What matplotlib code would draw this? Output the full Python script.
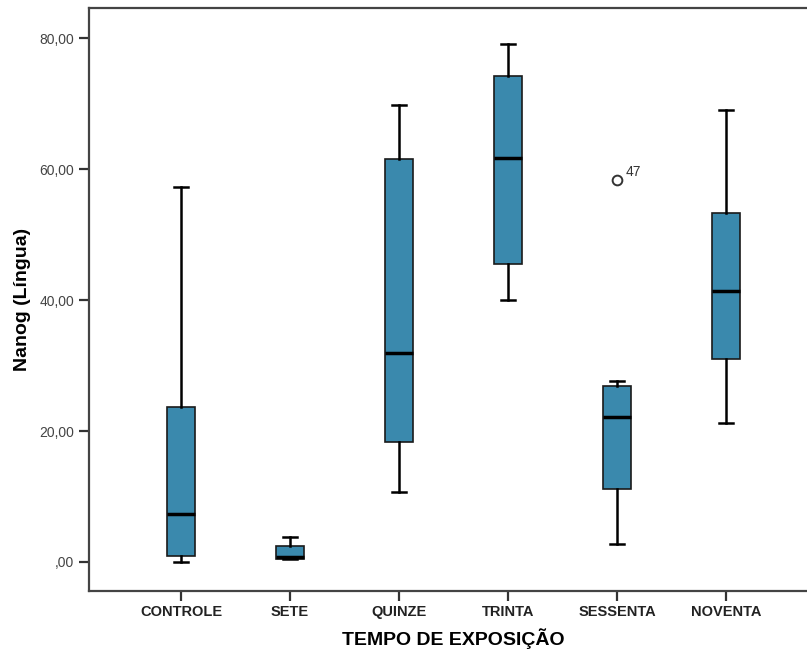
import matplotlib
matplotlib.use('Agg')
import matplotlib.pyplot as plt

plt.rcParams['font.family'] = ['Liberation Sans', 'DejaVu Sans']

# five-number summaries per exposure time
groups = ['CONTROLE', 'SETE', 'QUINZE', 'TRINTA', 'SESSENTA', 'NOVENTA']
whisker_low = [0.0, 0.4, 10.7, 40.0, 2.7, 21.2]
q1 = [0.9, 0.45, 18.3, 45.5, 11.1, 31.0]
median = [7.3, 0.75, 31.9, 61.7, 22.1, 41.4]
q3 = [23.7, 2.4, 61.5, 74.2, 26.9, 53.3]
whisker_high = [57.3, 3.8, 69.8, 79.1, 27.6, 69.0]
outliers = [[], [], [], [], [58.3], []]
outlier_ids = [[], [], [], [], ['47'], []]

yticks = [0, 20, 40, 60, 80]
ytick_labels = [',00', '20,00', '40,00', '60,00', '80,00']

stats = []
for i, g in enumerate(groups):
    stats.append(dict(label=g, whislo=whisker_low[i], q1=q1[i], med=median[i],
                      q3=q3[i], whishi=whisker_high[i], fliers=outliers[i]))

fig = plt.figure(figsize=(8.07, 6.53), dpi=100)
ax = fig.add_axes([89 / 807, 62 / 653, 729 / 807, 583 / 653])

positions = list(range(1, len(groups) + 1))
ax.bxp(stats, positions=positions, widths=0.26, patch_artist=True,
       showfliers=True,
       boxprops=dict(facecolor='#3a89ad', edgecolor='#1a1a1a', linewidth=1.2),
       medianprops=dict(color='black', linewidth=2.5),
       whiskerprops=dict(color='black', linewidth=1.8),
       capprops=dict(color='black', linewidth=1.8),
       capwidths=0.13,
       flierprops=dict(marker='o', markerfacecolor='white', markeredgecolor='#333333',
                       markersize=7, markeredgewidth=1.4))

for i, ids in enumerate(outlier_ids):
    for val, name in zip(outliers[i], ids):
        ax.annotate(name, (positions[i], val), xytext=(6, 3), textcoords='offset points',
                    fontsize=10, color='#333333')

ax.set_xlim(0.156, 6.844)
ax.set_ylim(-4.43, 84.6)
ax.set_yticks(yticks)
ax.set_yticklabels(ytick_labels, fontsize=10, color='#444444')
ax.set_xticks(positions)
ax.set_xticklabels(groups, fontsize=10.5, fontweight='bold', color='#222222')
ax.tick_params(axis='both', direction='out', length=7, width=1.6, color='#333333')
ax.tick_params(axis='x', pad=3)
for s in ax.spines.values():
    s.set_linewidth(1.6)
    s.set_color('#444444')

ax.set_xlabel('TEMPO DE EXPOSIÇÃO', fontsize=14, fontweight='bold', labelpad=7)
ax.set_ylabel('Nanog (Língua)', fontsize=14, fontweight='bold', labelpad=6)

fig.savefig('out.png', dpi=100)
